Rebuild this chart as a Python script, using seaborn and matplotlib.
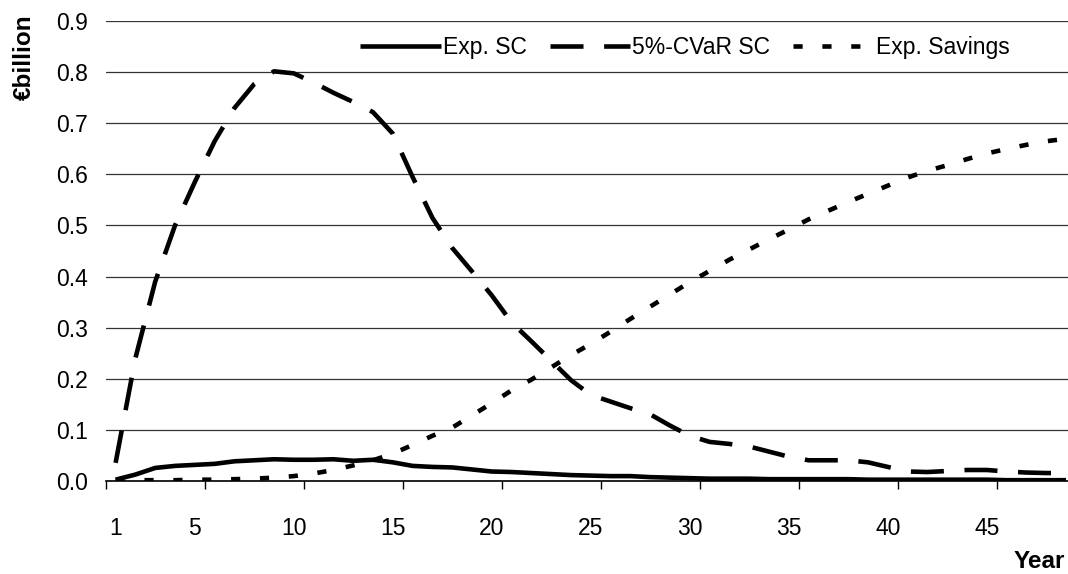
import matplotlib
matplotlib.use("Agg")
import matplotlib.pyplot as plt
import seaborn as sns
import pandas as pd
import numpy as np
from matplotlib.ticker import FixedLocator, NullFormatter, FixedFormatter

years = list(range(1, 50))

exp_sc = [0.002, 0.012, 0.025, 0.029, 0.031, 0.033, 0.038, 0.040, 0.042, 0.041,
          0.041, 0.042, 0.039, 0.041, 0.036, 0.029, 0.027, 0.026, 0.022, 0.018,
          0.017, 0.015, 0.013, 0.011, 0.010, 0.009, 0.009, 0.007, 0.006, 0.005,
          0.004, 0.004, 0.004, 0.003, 0.003, 0.003, 0.003, 0.003, 0.002, 0.002,
          0.002, 0.002, 0.002, 0.002, 0.002, 0.001, 0.001, 0.001, 0.001]

cvar_sc = [0.035, 0.240, 0.390, 0.500, 0.585, 0.665, 0.730, 0.777, 0.802, 0.798,
           0.780, 0.760, 0.742, 0.722, 0.680, 0.595, 0.515, 0.456, 0.410, 0.363,
           0.310, 0.273, 0.235, 0.197, 0.168, 0.155, 0.142, 0.130, 0.108, 0.088,
           0.076, 0.072, 0.067, 0.057, 0.047, 0.040, 0.040, 0.040, 0.036, 0.027,
           0.018, 0.017, 0.019, 0.021, 0.021, 0.018, 0.016, 0.015, 0.015]

exp_savings = [0.000, 0.001, 0.001, 0.001, 0.002, 0.002, 0.003, 0.004, 0.006, 0.009,
               0.014, 0.021, 0.030, 0.040, 0.053, 0.070, 0.088, 0.104, 0.128, 0.152,
               0.177, 0.198, 0.222, 0.246, 0.268, 0.292, 0.317, 0.341, 0.365, 0.389,
               0.411, 0.433, 0.453, 0.473, 0.492, 0.512, 0.529, 0.546, 0.562, 0.578,
               0.594, 0.607, 0.618, 0.630, 0.641, 0.650, 0.658, 0.665, 0.670]

series_names = ["Exp. SC", "5%-CVaR SC", "Exp. Savings"]
x_tick_labels = ["1", "5", "10", "15", "20", "25", "30", "35", "40", "45"]
x_tick_vals = [1, 5, 10, 15, 20, 25, 30, 35, 40, 45]
y_ticks = [0.0, 0.1, 0.2, 0.3, 0.4, 0.5, 0.6, 0.7, 0.8, 0.9]

sns.set_theme(style="white")
plt.rcParams['font.family'] = ['Liberation Sans', 'DejaVu Sans']

W, H = 1068, 574
fig = plt.figure(figsize=(W / 100, H / 100), dpi=100)
left_px, right_px, top_px, bottom_px = 105.7, 105.7 + 49 * 19.8, 21.3, 480.7
ax = fig.add_axes([left_px / W, 1 - bottom_px / H, (right_px - left_px) / W,
                   (bottom_px - top_px) / H])
ax.set_facecolor("white")

lw = 3.3
styles = [None, (0, (7.2, 4.5)), (0, (2.0, 4.3))]
for name, vals, ls in zip(series_names, [exp_sc, cvar_sc, exp_savings], styles):
    sns.lineplot(x=years, y=vals, ax=ax, color="black", linewidth=lw, label=name)
    line = ax.lines[-1]
    if ls is not None:
        line.set_linestyle(ls)
    line.set_dash_capstyle("butt")
    line.set_solid_capstyle("butt")

ax.set_xlim(0.5, 49.5)
ax.set_ylim(0, 0.9)

fs = 16.5
ax.set_yticks(y_ticks)
ax.set_yticklabels([f"{v:.1f}" for v in y_ticks])
ax.yaxis.grid(True, color="#333333", linewidth=0.9)
ax.xaxis.grid(False)
ax.set_axisbelow(True)
ax.tick_params(axis="y", length=0, pad=13, labelsize=fs, labelcolor="black")

# boundary ticks (marks only) and category labels (no marks)
ax.xaxis.set_major_locator(FixedLocator([0.5 + 5 * i for i in range(10)]))
ax.xaxis.set_major_formatter(NullFormatter())
ax.xaxis.set_minor_locator(FixedLocator(x_tick_vals))
ax.xaxis.set_minor_formatter(FixedFormatter(x_tick_labels))
ax.tick_params(axis="x", which="major", direction="out", length=6, width=1,
               color="black", bottom=True)
ax.tick_params(axis="x", which="minor", length=0, pad=26, labelsize=fs,
               labelcolor="black", bottom=True)

for s in ["top", "right", "left"]:
    ax.spines[s].set_visible(False)
ax.spines["bottom"].set_color("black")
ax.spines["bottom"].set_linewidth(1.2)

ax.set_xlabel("")
ax.set_ylabel("")

leg = ax.legend(loc="center", bbox_to_anchor=(0.597, 0.944), ncol=3,
                frameon=False, fontsize=fs, handlelength=3.5,
                handletextpad=0.1, columnspacing=1.0, borderaxespad=0)
for t in leg.get_texts():
    t.set_color("black")

fig.text(24 / W, 1 - 57 / H, "€billion", rotation=90, ha="center", va="center",
         fontsize=17.5, fontweight="bold", color="black")
fig.text(1065 / W, 1 - 561 / H, "Year", ha="right", va="center",
         fontsize=17.5, fontweight="bold", color="black")

fig.savefig("out.png", dpi=100, facecolor="white")
